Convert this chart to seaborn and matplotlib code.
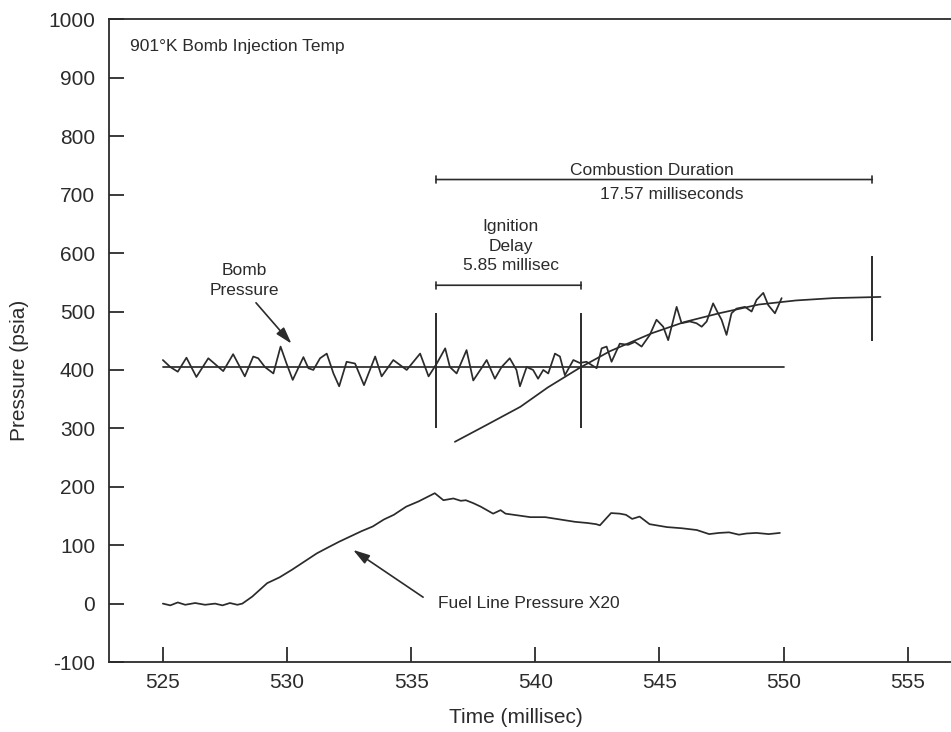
import matplotlib
matplotlib.use("Agg")
import matplotlib.pyplot as plt
import seaborn as sns
import numpy as np
import pandas as pd

# ---------------- data ----------------
bomb_t = [525.0, 525.3, 525.6, 525.95, 526.35, 526.83, 527.43, 527.83, 528.3, 528.64,
          528.84, 529.11, 529.45, 529.74, 529.98, 530.23, 530.66, 530.86, 531.06, 531.33,
          531.6, 531.87, 532.1, 532.4, 532.74, 533.1, 533.55, 533.81, 534.28, 534.82,
          535.36, 535.7, 536.03, 536.37, 536.56, 536.83, 537.23, 537.5, 537.83, 538.04,
          538.37, 538.64, 538.97, 539.24, 539.38, 539.65, 539.91, 540.11, 540.32, 540.52,
          540.79, 540.99, 541.19, 541.53, 541.79, 542.06, 542.47, 542.67, 542.87, 543.07,
          543.4, 543.74, 544.01, 544.28, 544.61, 544.88, 545.15, 545.35, 545.69, 545.89,
          546.22, 546.49, 546.7, 546.9, 547.16, 547.36, 547.5, 547.7, 547.9, 548.1,
          548.44, 548.71, 548.91, 549.18, 549.38, 549.65, 549.92]
bomb_p = [417, 405, 397, 421, 388, 420, 398, 427, 389, 423,
          420, 405, 394, 440, 411, 383, 422, 403, 400, 420,
          428, 394, 372, 414, 411, 374, 423, 389, 417, 400,
          428, 389, 411, 437, 405, 394, 434, 382, 403, 417,
          385, 405, 420, 400, 372, 405, 400, 385, 400, 394,
          428, 423, 391, 417, 412, 414, 403, 437, 440, 414,
          445, 443, 448, 440, 460, 486, 474, 451, 508, 480,
          483, 480, 474, 483, 514, 497, 486, 460, 497, 505,
          508, 500, 520, 532, 511, 497, 523]

fuel_t = [525.0, 525.3, 525.6, 525.9, 526.3, 526.7, 527.1, 527.4, 527.7, 528.0,
          528.2, 528.6, 529.2, 529.7, 530.2, 530.7, 531.2, 531.6, 532.1, 532.6,
          533.0, 533.45, 533.9, 534.3, 534.8, 535.3, 535.95, 536.3, 536.7, 537.0,
          537.2, 537.5, 537.8, 538.3, 538.6, 538.8, 539.3, 539.8, 540.4, 541.0,
          541.6, 542.1, 542.45, 542.6, 543.05, 543.4, 543.65, 543.9, 544.2, 544.6,
          545.3, 545.9, 546.5, 547.0, 547.4, 547.8, 548.2, 548.5, 548.9, 549.4, 549.85]
fuel_p = [0, -3, 2, -2, 1, -2, 0, -3, 1, -2,
          0, 12, 35, 45, 58, 72, 86, 95, 106, 116,
          124, 132, 144, 152, 166, 175, 189, 177, 180, 176,
          177, 172, 166, 154, 160, 154, 151, 148, 148, 144,
          140, 138, 136, 134, 155, 154, 152, 145, 149, 136,
          131, 129, 126, 119, 121, 122, 118, 120, 121, 119, 121]

fit_t = [536.76, 538.0, 539.4, 540.5, 541.8, 543.0, 544.7, 546.0, 547.4, 549.0, 550.5, 552.0, 553.9]
fit_p = [277, 305, 337, 370, 404, 432, 463, 482, 497, 512, 519, 523, 525]

base_t = [525.0, 550.0]
base_p = [405, 405]

ignition_start = 536.0
ignition_delay = 5.85
combustion_duration = 17.57

xticks = [525, 530, 535, 540, 545, 550, 555]
yticks = list(range(-100, 1001, 100))

# ---------------- style ----------------
sns.set_style("ticks")
plt.rcParams['font.family'] = ['Liberation Sans', 'DejaVu Sans']
plt.rcParams['axes.unicode_minus'] = False
ink = "#2b2b2b"

fig = plt.figure(figsize=(9.51, 7.32), dpi=100)
ax = fig.add_axes([0.1146, 0.0956, 1 - 0.1146, 0.9734 - 0.0956])

lw = 1.25
sns.lineplot(x=bomb_t, y=bomb_p, ax=ax, color=ink, lw=lw, estimator=None)
sns.lineplot(x=fuel_t, y=fuel_p, ax=ax, color=ink, lw=lw, estimator=None)
sns.lineplot(x=fit_t, y=fit_p, ax=ax, color=ink, lw=lw, estimator=None)
sns.lineplot(x=base_t, y=base_p, ax=ax, color=ink, lw=lw, estimator=None)

ign_end = ignition_start + ignition_delay
comb_end = ignition_start + combustion_duration
ax.vlines([ignition_start, ign_end], 301, 498, color=ink, lw=1.4)
ax.vlines([comb_end], 450, 595, color=ink, lw=1.4)

# bracket bars
bar = dict(arrowstyle='|-|,widthA=0.25,widthB=0.25', color=ink, lw=1.2, shrinkA=0, shrinkB=0)
ax.annotate('', xy=(ignition_start, 726), xytext=(comb_end, 726), arrowprops=bar)
ax.annotate('', xy=(ignition_start, 545), xytext=(ign_end, 545), arrowprops=bar)

fs = 12.5
ax.text(541.4, 742, 'Combustion Duration', fontsize=fs, color=ink, ha='left', va='center')
ax.text(542.6, 700, '17.57 milliseconds', fontsize=fs, color=ink, ha='left', va='center')
ax.text(539.0, 612, 'Ignition\nDelay\n5.85 millisec', fontsize=fs, color=ink,
        ha='center', va='center', linespacing=1.4)
ax.text(528.3, 553, 'Bomb\nPressure', fontsize=fs, color=ink, ha='center', va='center',
        linespacing=1.4)
ax.text(523.67, 954, '901°K Bomb Injection Temp', fontsize=fs, color=ink, ha='left', va='center')
ax.text(536.07, 0, 'Fuel Line Pressure X20', fontsize=fs, color=ink, ha='left', va='center')

arr = dict(arrowstyle='-|>,head_length=1.0,head_width=0.3', color=ink, lw=1.2,
           shrinkA=0, shrinkB=0)
ax.annotate('', xy=(530.18, 445), xytext=(528.75, 515), arrowprops=arr)
ax.annotate('', xy=(532.66, 92), xytext=(535.48, 11), arrowprops=arr)

ax.set_xlim(522.83, 556.74)
ax.set_ylim(-100, 1000)
ax.set_xticks(xticks)
ax.set_yticks(yticks)
ax.tick_params(direction='in', length=11, width=1.3, colors=ink, labelsize=15)
ax.tick_params(axis='y', pad=10)
ax.tick_params(axis='x', pad=8)
for s in ['left', 'bottom', 'top']:
    ax.spines[s].set_linewidth(1.3)
    ax.spines[s].set_color(ink)
ax.spines['right'].set_visible(False)

ax.set_xlabel('Time (millisec)', fontsize=15, color=ink)
ax.set_ylabel('Pressure (psia)', fontsize=15, color=ink)
ax.xaxis.set_label_coords(0.483, -0.072)
ax.yaxis.set_label_coords(-0.095, 0.454)

fig.savefig('out.png', dpi=100)
